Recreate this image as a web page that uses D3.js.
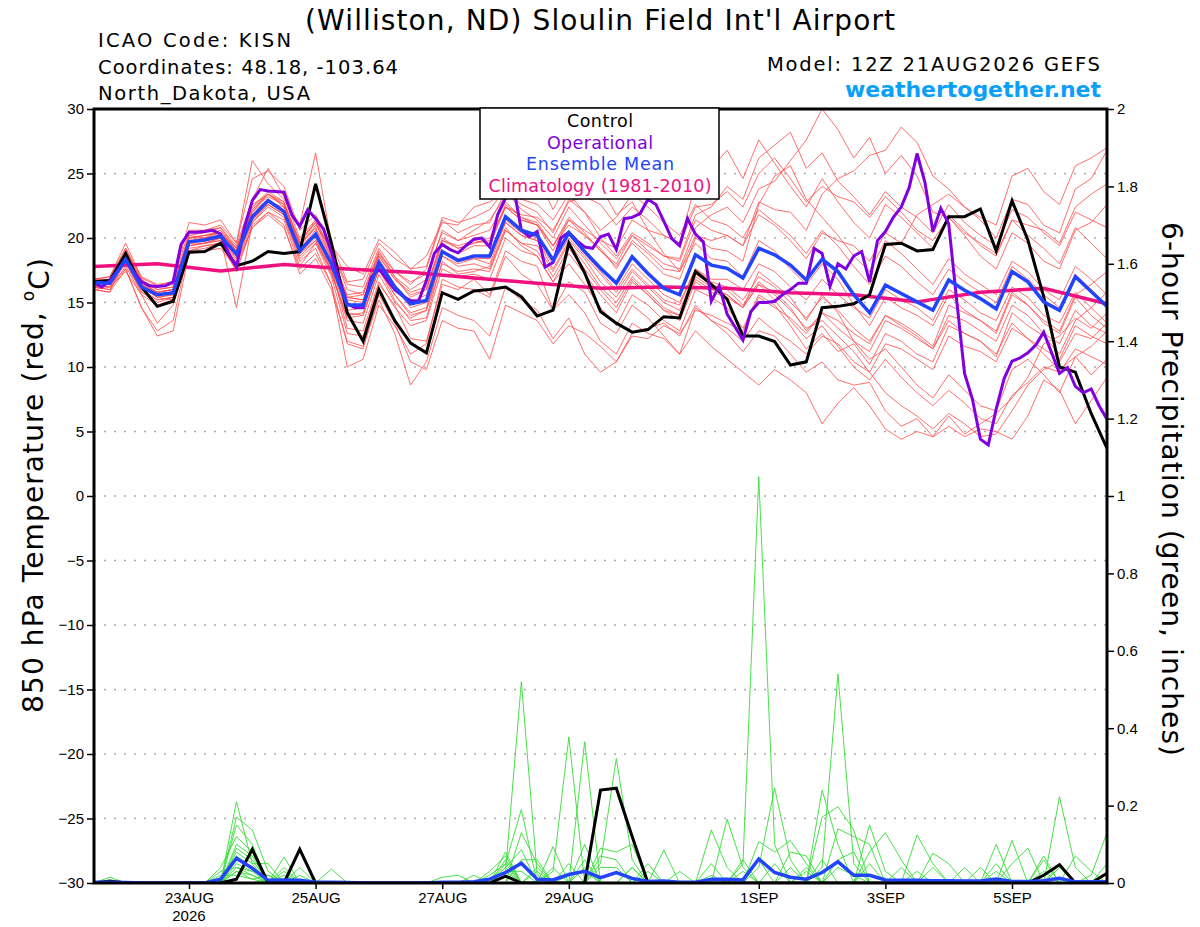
<!DOCTYPE html>
<html>
<head>
<meta charset="utf-8">
<script src="https://cdn.jsdelivr.net/npm/d3@7"></script>
<style>
  body { margin: 0; background: #fff; }
  svg text { font-family: "DejaVu Sans", "Liberation Sans", Arial, sans-serif; }
  .axis text { font-family: "Liberation Sans Narrow", "Liberation Sans", Arial, sans-serif; font-size: 15px; fill: #000; }
  .axis line { stroke: #000; stroke-width: 1.5; }
</style>
</head>
<body>
<svg id="chart" width="1200" height="927"></svg>
<script>
// GEFS 850 hPa temperature + 6-hour precipitation plume, KISN, 12Z 21AUG2026

// ---- data ----
const tempTicks = [-30, -25, -20, -15, -10, -5, 0, 5, 10, 15, 20, 25, 30];
const precipTicks = [0, 0.2, 0.4, 0.6, 0.8, 1, 1.2, 1.4, 1.6, 1.8, 2];
const dateTicks = ["2026-08-23", "2026-08-25", "2026-08-27", "2026-08-29", "2026-09-01", "2026-09-03", "2026-09-05"];
const dateLabels = ["23AUG", "25AUG", "27AUG", "29AUG", "1SEP", "3SEP", "5SEP"];
const legendLabels = ["Control", "Operational", "Ensemble Mean", "Climatology (1981-2010)"];

// 6-hourly, 21AUG 12Z .. 6SEP 12Z (65 steps)
const controlTemp = [
  16.6,16.7,18.8,16.2,14.7,15.1,18.9,18.95,19.6,17.85,18.2,18.95,18.8,18.95,24.2,19.6,
  14.2,12.0,16.0,13.6,11.85,11.1,15.76,15.25,15.9,16.0,16.2,15.45,13.95,14.4,19.6,17.3,
  14.3,13.4,12.7,12.9,13.9,13.8,17.4,16.4,15.25,12.4,12.4,11.97,10.15,10.4,14.6,14.7,
  14.9,15.6,19.5,19.6,19.0,19.1,21.65,21.65,22.25,19.0,22.9,19.85,15.45,10.0,9.6,6.4,3.7];

const meanTemp = [
  16.55,16.5,18.35,16.2,15.6,15.75,19.7,19.85,20.15,18.75,21.65,22.9,22.05,19.0,20.3,18.0,
  14.8,14.8,18.1,16.2,14.9,15.15,18.95,18.25,18.6,18.6,21.65,20.6,20.2,18.3,20.4,18.95,
  17.65,16.5,18.55,17.25,16.1,15.6,18.7,17.9,17.65,16.9,19.2,18.7,17.9,16.75,18.35,17.4,
  15.6,14.2,16.35,15.7,15.05,14.4,16.75,15.95,15.3,14.5,17.4,16.6,15.05,14.4,17.0,15.85,14.7];

// 3-hourly operational run (129 steps)
const operationalTemp = [
  16.5,16.2,16.7,17.5,18.3,17.4,16.6,16.3,16.25,16.3,16.6,19.5,20.45,20.45,20.5,20.6,
  20.3,18.8,17.75,20.8,22.9,23.75,23.65,23.6,23.55,21.8,20.9,22.2,21.5,20.7,18.9,16.7,
  14.9,14.6,14.6,16.9,17.6,16.8,16.0,15.5,15.15,15.1,16.7,18.8,19.5,19.1,18.85,19.4,
  19.9,20.0,19.3,21.8,23.1,24.0,20.6,20.1,20.5,17.75,18.1,20.0,20.45,19.8,19.3,19.2,
  20.1,20.3,19.1,21.5,21.6,21.9,23.0,22.6,21.3,19.95,19.4,21.5,20.3,19.7,15.1,16.3,
  14.1,13.1,12.1,14.3,15.0,15.0,15.1,15.6,16.0,16.5,16.5,19.2,18.8,16.25,18.0,17.6,
  18.6,18.95,16.6,19.8,20.5,21.6,22.4,23.9,26.55,24.3,20.5,22.3,21.1,15.2,9.5,7.5,
  4.4,3.95,6.75,9.1,10.45,10.7,11.1,11.7,12.7,11.1,9.5,9.95,8.5,8.0,8.3,7.0,5.95];

// daily at 12Z (17 steps)
const climoTemp = [17.8,18.0,17.45,17.95,17.6,17.35,16.9,16.5,16.1,16.2,16.1,15.75,15.6,15.05,15.8,16.1,14.9];

// ensemble members, 850 hPa temperature
const member01 = [16.8,17.0,19.6,16.9,16.3,16.6,21.2,21.0,21.4,19.6,24.6,25.2,24.0,20.6,21.8,19.4,
  17.8,17.2,19.9,18.9,17.6,18.6,21.2,21.0,22.4,22.8,23.6,22.2,21.4,20.0,22.4,21.0,
  19.6,18.4,20.2,19.0,18.0,17.6,20.8,21.8,22.4,21.2,23.8,24.4,26.0,27.6,30.0,28.4,
  26.2,27.8,25.0,26.4,24.8,22.0,21.6,20.2,18.6,17.6,20.4,19.6,18.2,17.6,20.6,21.2,22.6];
const member02 = [16.2,16.0,17.8,15.6,13.4,14.8,19.0,19.2,19.6,17.4,21.0,22.0,21.4,17.8,19.6,17.0,
  12.6,12.4,16.4,14.8,12.2,12.0,16.4,16.0,16.8,15.6,19.0,18.2,17.8,14.4,16.6,15.8,
  13.4,12.6,14.8,13.8,12.4,11.0,14.6,13.6,12.6,11.2,12.8,12.4,11.0,9.6,10.4,9.0,
  8.6,8.8,6.6,5.4,6.0,4.6,6.2,4.8,5.6,6.4,7.6,9.2,11.8,12.4,13.8,13.0,14.2];
const member03 = [16.0,15.8,18.8,16.6,15.4,15.2,20.2,20.4,20.8,19.2,22.4,23.6,22.8,19.6,20.8,17.2,
  13.8,14.0,17.6,15.2,13.6,13.8,18.2,17.2,17.4,17.8,20.8,19.4,18.6,16.6,18.0,16.4,
  14.6,13.2,15.6,14.8,13.6,12.8,16.0,15.4,14.6,13.0,15.6,14.8,13.2,11.4,12.6,11.2,
  11.8,10.2,12.6,12.0,11.0,10.4,13.2,12.6,12.0,10.8,14.2,13.2,12.4,11.0,13.6,14.6,15.8];
const member04 = [16.6,16.8,18.0,16.4,15.8,16.0,19.4,19.6,19.8,18.2,21.4,22.8,22.4,19.4,21.0,19.2,
  16.0,15.6,18.8,17.4,16.6,17.2,20.4,19.8,20.6,21.4,23.2,24.4,24.8,22.2,24.6,25.6,
  24.0,21.8,22.8,20.6,18.8,17.4,19.6,18.4,18.2,17.0,19.8,19.0,17.6,16.4,18.0,16.8,
  14.8,13.2,15.4,14.6,14.0,13.2,15.6,14.4,13.6,12.8,15.8,14.8,13.4,12.6,15.4,14.0,13.0];
const member05 = [16.4,16.2,18.2,15.8,15.0,15.4,19.4,19.6,20.0,14.6,21.2,22.4,21.6,18.2,19.2,16.4,
  10.0,10.6,14.8,13.2,11.0,11.8,16.8,16.2,16.0,15.4,18.6,17.2,16.4,14.4,15.6,14.2,
  12.0,11.0,13.4,12.6,12.2,11.0,12.8,11.6,10.6,9.6,8.6,9.8,9.0,8.0,5.6,7.2,
  8.4,7.0,5.2,4.4,5.0,4.6,5.4,4.6,5.2,5.0,4.4,6.2,9.0,8.2,5.6,7.4,9.2];
const member06 = [16.6,16.6,19.0,16.8,16.0,16.2,20.0,20.2,20.4,19.2,22.6,23.4,22.6,19.8,21.2,18.6,
  15.6,15.8,19.0,17.0,15.4,16.0,19.8,19.4,19.8,19.6,22.6,21.6,21.2,19.4,21.6,20.4,
  19.0,17.8,19.6,18.4,17.2,16.8,20.0,19.2,19.0,18.2,22.6,24.8,25.6,23.0,21.6,20.2,
  18.6,17.4,19.8,18.8,17.6,16.4,18.4,17.2,16.4,15.6,18.2,17.4,16.0,15.2,17.8,16.8,15.6];
const member07 = [16.2,16.4,17.6,14.6,12.8,13.6,19.2,19.4,19.6,18.0,20.8,21.8,20.8,17.6,18.8,16.4,
  11.8,11.4,15.6,13.4,10.4,9.8,13.6,13.0,12.8,10.6,14.8,14.2,13.6,11.8,13.2,12.6,
  11.6,10.4,12.4,12.2,13.2,12.6,14.4,14.0,13.4,12.8,15.4,14.6,13.8,12.6,14.2,13.0,
  12.0,11.2,13.6,13.0,12.2,11.4,14.0,13.6,12.8,12.0,14.8,14.0,12.6,11.8,14.4,13.2,12.6];
const member08 = [16.8,16.6,18.6,16.4,15.8,16.0,20.0,20.2,20.6,19.0,22.0,23.4,22.8,19.6,21.2,18.4,
  15.2,15.0,18.4,16.4,15.0,15.6,19.6,18.8,19.4,19.4,22.4,21.4,21.0,19.0,21.4,20.6,
  19.8,19.2,21.4,20.6,20.2,19.6,24.2,25.4,26.8,24.6,27.6,25.8,24.0,22.4,24.6,22.8,
  21.2,20.0,22.6,21.6,20.4,19.2,21.8,20.6,19.4,18.6,21.4,20.2,19.2,18.0,20.8,19.6,18.4];
const member09 = [16.4,16.4,18.0,15.8,15.2,15.4,19.6,19.8,20.0,18.4,22.0,23.0,22.2,18.8,20.0,17.4,
  13.6,13.4,17.2,15.0,13.8,14.4,18.0,17.4,17.6,17.4,20.6,19.6,19.0,17.0,19.2,17.6,
  16.0,14.6,16.8,15.6,14.4,14.0,16.8,16.0,15.6,14.6,16.4,15.8,14.6,12.8,14.2,13.6,
  12.6,11.8,14.0,13.4,12.6,11.6,14.8,14.2,13.6,12.6,15.6,14.8,13.6,12.8,15.6,16.4,17.4];
const member10 = [16.6,16.8,18.8,16.6,16.0,16.2,20.0,20.0,20.6,19.2,22.4,23.4,22.4,19.2,20.6,18.2,
  15.4,15.6,18.8,17.0,16.0,16.8,20.6,19.8,20.2,20.6,22.8,21.6,21.0,19.4,21.0,20.2,
  19.2,17.6,19.8,18.8,17.6,17.4,20.2,19.8,20.2,19.4,22.8,22.2,22.0,20.6,23.4,24.6,
  25.2,26.4,26.8,28.6,27.4,24.8,23.8,22.4,21.4,20.0,23.0,22.6,21.0,20.4,23.8,24.6,26.8];
const member11 = [16.0,16.2,17.4,15.6,14.8,15.2,19.0,19.4,19.6,18.0,21.2,22.6,21.8,18.4,19.6,17.6,
  13.0,12.8,16.6,14.6,13.2,13.6,17.6,17.0,17.2,16.8,20.0,19.0,18.6,16.6,18.8,17.2,
  15.6,14.2,16.6,15.6,14.4,13.6,16.6,15.8,15.4,14.6,17.4,16.4,15.4,13.6,15.6,14.2,
  12.0,10.6,11.4,10.0,8.6,7.6,9.4,8.2,7.0,6.6,9.8,10.6,9.4,8.0,10.8,11.6,12.8];
const member12 = [16.6,16.4,19.0,16.8,15.6,15.8,20.4,20.6,20.8,19.4,23.0,25.4,23.2,20.0,21.4,19.0,
  16.4,16.2,19.2,17.4,16.4,17.6,21.4,20.4,21.0,21.2,23.6,22.6,22.0,20.4,23.0,22.0,
  20.6,21.6,23.4,22.4,21.2,20.2,22.6,21.4,21.0,20.0,22.2,21.2,20.2,18.8,20.6,19.4,
  17.8,16.4,18.6,17.8,16.6,15.6,17.6,16.6,15.8,15.0,17.8,16.8,15.6,14.6,17.2,16.0,14.8];
const member13 = [16.2,16.0,18.2,16.0,15.2,15.4,19.4,19.6,19.8,18.4,21.4,22.6,21.8,18.6,19.8,17.2,
  14.0,14.2,17.6,15.6,14.0,14.4,18.6,17.8,18.0,17.6,20.6,19.6,19.4,17.4,19.6,18.0,
  16.2,15.0,17.0,15.8,14.6,14.0,17.0,16.2,15.6,14.6,16.4,15.2,13.6,12.2,13.2,11.6,
  10.0,9.0,10.6,9.2,8.0,7.0,8.2,7.2,6.0,5.6,7.8,8.8,10.0,9.6,11.4,10.8,10.2];
const member14 = [16.8,17.0,19.2,16.6,16.2,16.4,20.2,20.0,20.4,19.0,22.2,23.2,22.6,19.6,21.4,18.8,
  15.4,15.2,18.6,16.8,15.8,16.2,19.8,19.2,19.6,20.0,22.4,21.8,21.6,20.6,22.8,23.2,
  22.6,21.0,22.4,21.4,20.2,19.6,22.4,22.6,23.6,22.4,25.0,26.2,24.6,22.8,24.0,23.2,
  22.8,21.6,23.2,22.0,20.6,19.8,21.6,20.4,19.6,18.8,21.4,21.0,20.6,19.6,22.4,23.4,24.2];
const member15 = [16.4,16.6,18.6,16.2,15.4,15.6,19.6,19.6,20.0,18.6,21.8,22.8,22.0,19.0,20.2,17.8,
  14.4,14.6,18.0,16.2,14.6,15.0,19.0,18.4,18.6,18.4,21.4,20.4,20.0,18.2,20.2,18.8,
  17.4,16.0,18.0,16.8,15.6,15.0,17.6,16.6,16.2,15.2,17.0,16.2,15.0,13.8,15.4,14.4,
  13.0,12.0,14.0,13.2,12.4,11.4,13.6,12.6,12.0,11.0,13.4,12.2,11.0,9.8,10.8,9.4,10.6];
const member16 = [16.4,16.2,18.4,16.2,15.4,15.6,19.6,19.8,20.0,18.6,21.4,22.6,21.8,18.8,19.8,17.6,
  14.2,14.0,17.6,15.6,14.2,14.6,18.6,18.0,18.4,18.0,21.2,20.2,19.8,17.6,19.8,18.4,
  16.6,15.4,17.4,16.2,15.0,14.4,17.2,16.4,16.0,14.8,16.6,15.6,14.4,13.0,13.6,12.4,
  11.2,9.6,8.0,7.0,6.2,5.2,6.4,5.6,4.6,4.8,6.6,8.6,9.8,10.4,12.6,12.2,13.4];
const member17 = [16.6,16.8,18.8,16.6,15.8,16.0,20.0,20.2,20.4,19.0,22.2,23.4,22.6,19.4,20.8,18.4,
  15.4,15.2,18.6,16.8,15.6,16.0,20.0,19.2,19.6,19.8,22.4,21.4,21.0,19.4,21.4,20.2,
  19.0,18.0,20.2,19.4,18.6,18.4,21.8,22.4,24.0,23.0,26.2,27.2,28.2,25.4,26.6,24.4,
  23.2,21.8,23.6,22.4,21.6,20.4,22.6,21.2,20.2,19.4,22.2,21.6,20.4,19.4,22.0,21.4,20.8];
const member18 = [16.6,16.4,18.4,16.2,15.8,16.0,19.8,20.0,20.2,18.8,21.6,22.8,22.0,19.2,20.4,18.2,
  14.8,14.8,18.2,16.2,15.0,15.2,19.0,18.2,18.4,18.4,21.2,20.2,19.8,18.0,20.0,18.6,
  17.2,15.8,17.6,16.4,15.2,14.8,17.6,16.8,16.8,16.0,18.0,17.4,16.2,15.2,16.8,15.6,
  14.6,13.8,16.0,15.2,14.6,13.6,16.0,15.2,14.2,13.6,16.2,15.4,14.0,13.4,15.8,14.6,13.4];
const member19 = [16.0,15.8,17.6,14.6,12.4,12.8,18.8,19.0,19.2,17.6,20.8,22.0,21.0,17.2,18.4,16.0,
  12.0,11.6,15.2,12.6,8.6,10.4,14.6,14.0,13.6,12.4,16.2,15.2,14.4,12.2,13.8,11.0,
  9.6,10.4,12.6,13.0,13.4,12.4,14.8,13.6,13.0,12.0,13.8,12.8,12.0,11.0,12.4,11.8,
  10.4,9.6,11.8,11.4,10.6,9.8,12.4,11.6,11.2,10.4,13.0,12.2,11.4,10.6,13.2,12.4,11.8];
const member20 = [16.8,16.8,19.2,17.0,16.4,16.6,20.6,20.6,21.0,19.6,26.0,24.2,23.0,21.0,26.6,19.6,
  16.6,16.8,19.6,18.4,17.6,17.8,21.6,21.2,21.6,22.2,23.8,23.0,22.6,21.4,23.4,22.0,
  20.0,18.6,20.4,19.6,18.6,18.2,21.4,20.6,20.2,19.4,21.8,21.0,19.8,18.4,20.4,19.8,
  19.4,18.2,20.4,19.6,21.8,22.6,23.4,22.4,21.6,21.0,24.8,25.4,23.6,22.6,25.6,26.2,27.0];

// 6-hour precipitation (inches)
const controlPrecip = [0,0.005,0,0,0,0,0,0,0,0.01,0.087,0,0,0.087,0,0,
  0,0,0,0,0,0,0,0,0,0,0.018,0,0,0,0,0,
  0.24,0.245,0.12,0,0,0,0,0,0,0,0,0,0,0,0,0,
  0,0,0,0,0,0,0,0,0,0,0,0,0.02,0.047,0,0,0.025];
const meanPrecip = [0.002,0.002,0.001,0,0,0,0,0,0.01,0.064,0.038,0.007,0.008,0.007,0.002,0.002,
  0.001,0,0,0,0,0,0.002,0.002,0.003,0.01,0.027,0.051,0.01,0.008,0.022,0.03,
  0.014,0.027,0.012,0.004,0.005,0.002,0.002,0.01,0.01,0.008,0.062,0.027,0.015,0.01,0.027,0.055,
  0.02,0.02,0.008,0.007,0.007,0.006,0.006,0.005,0.005,0.01,0.004,0.004,0.006,0.012,0.003,0.003,0.003];

const precip01 = [0,0,0,0,0,0,0,0,0,.21,.05,0,0,0,0,0,
  0,0,0,0,0,0,0,0,0,0,.03,.52,.02,0,0,0,
  0,0,0,0,0,0,0,0,0,.05,1.05,.1,0,0,0,0,
  0,0,0,0,0,0,0,0,0,.1,0,0,0,0,0,0,0];
const precip02 = [0,0,0,0,0,0,0,0,0,.17,.137,.03,0,0,0,0,
  0,0,0,0,0,0,0,0,0,0,0,0,0,.03,.377,0,
  0,0,0,0,0,0,0,0,0,0,0,0,0,0,.04,.54,
  .05,0,0,0,0,0,0,0,0,0,0,0,0,.04,0,0,0];
const precip03 = [0,0,0,0,0,0,0,0,0,.15,.1,0,.067,0,0,0,
  0,0,0,0,0,0,0,0,0,0,0,0,0,0,0,.365,
  0,0,0,0,0,0,0,0,0,0,.04,.245,.06,0,0,0,
  0,0,0,0,0,0,0,0,0,0,0,0,0,.223,.04,0,0];
const precip04 = [0,0,0,0,0,0,0,0,.04,.12,.08,0,0,0,0,0,
  0,0,0,0,0,0,0,0,0,0,0,0,0,0,0,0,
  .05,.322,.06,0,0,0,0,0,0,0,0,0,0,0,.24,.1,
  0,0,0,0,0,0,0,0,0,0,.11,0,0,0,0,0,0];
const precip05 = [0,0,0,0,0,0,0,0,0,.1,.07,0,0,0,0,0,
  0,0,0,0,0,0,0,0,0,0,.05,.19,0,0,0,0,
  0,0,0,0,0,0,0,.137,.04,0,0,0,0,0,0,0,
  0,.15,.03,0,0,0,0,0,0,0,0,0,0,0,0,0,0];
const precip06 = [0,0,0,0,0,0,0,0,0,.09,.06,0,.04,0,0,0,
  0,0,0,0,0,0,0,0,0,0,0,.13,.05,0,0,0,
  0,0,0,0,0,0,0,0,0,0,0,0,0,0,.17,.197,
  .137,0,0,0,0,0,0,0,0,0,0,0,.07,0,0,0,0];
const precip07 = [0,0,0,0,0,0,0,0,0,.08,.05,.05,0,0,0,0,
  0,0,0,0,0,0,0,0,0,0,0,0,0,.094,0,.1,
  0,0,0,0,0,0,0,0,.165,.04,0,0,0,0,0,0,
  0,0,0,0,.124,.05,0,0,0,0,0,0,0,0,0,0,0];
const precip08 = [0,0,0,0,0,0,0,0,0,.07,.04,0,0,.04,0,0,
  0,0,0,0,0,0,0,0,0,0,.04,.086,0,0,0,0,
  0,0,0,0,0,0,0,0,0,0,.107,.08,.11,.05,0,0,
  0,0,0,0,0,0,0,0,0,0,0,0,0,0,0,.02,.13];
const precip09 = [0,0,0,0,0,0,0,0,0,.06,.04,0,0,0,0,.036,
  0,0,0,0,0,0,0,0,0,0,.06,0,0,0,0,0,
  .09,.08,.1,0,.085,0,0,0,0,0,0,0,0,0,0,.14,
  .12,.1,0,0,0,0,0,0,0,0,0,0,0,0,0,0,0];
const precip10 = [0,0,0,0,0,0,0,0,0,.05,.03,.02,0,0,0,0,
  0,0,0,0,0,0,0,0,0,0,0,.06,.06,0,0,.06,
  0,0,0,0,0,0,0,0,0,0,0,0,.08,.07,0,0,
  0,0,0,0,0,.077,.05,0,0,.05,0,0,0,0,0,0,0];
const precip11 = [0,0,0,0,0,0,0,0,0,.04,.03,0,.03,0,0,0,
  0,0,0,0,0,0,0,0,0,0,.08,0,.04,0,.05,0,
  0,0,0,.05,0,0,0,0,0,0,0,.05,0,0,0,0,
  0,.08,.13,.06,0,0,0,0,0,0,0,0,.06,0,0,0,0];
const precip12 = [0,0,0,0,0,0,0,0,.03,.04,.02,0,0,0,0,0,
  0,0,0,0,0,0,0,0,0,.03,.07,0,0,0,0,0,
  .07,.06,0,0,0,0,0,0,0,.06,0,0,0,0,0,.06,
  .08,0,0,0,0,0,0,0,0,0,.05,.09,0,0,0,0,0];
const precip13 = [0,0,0,0,0,0,0,0,0,.03,.02,0,.02,0,0,0,
  0,0,0,0,0,0,.015,.02,0,.02,.05,0,0,0,0,.04,
  0,0,.04,0,0,0,0,.05,0,0,0,0,0,0,.06,0,
  0,0,0,0,0,0,0,.04,0,0,0,0,0,.05,0,0,0];
const precip14 = [0,0,0,0,0,0,0,0,0,.03,.01,.02,0,0,0,0,
  0,0,0,0,0,0,0,0,.02,0,.04,0,0,0,.02,.03,
  0,0,0,.03,0,.03,0,0,0,0,.06,0,0,.04,0,0,
  0,0,0,.04,0,0,0,0,.04,0,0,0,0,0,0,0,.05];
const precip15 = [0,.015,0,0,0,0,0,0,.02,.02,.01,0,0,0,0,0,
  0,0,0,0,0,0,0,0,0,0,.03,0,.03,0,0,0,
  .04,.04,0,0,0,0,0,0,0,0,0,0,.04,0,0,.04,
  .02,0,0,0,.03,0,0,0,0,.03,0,0,.03,0,0,0,0];
const precip16 = [0,0,0,0,0,0,0,0,.01,0,0,.01,0,.02,0,0,
  0,0,0,0,0,0,0,0,0,0,.03,.03,0,.04,0,0,
  0,0,.04,0,0,0,0,.02,0,.03,0,0,0,.03,0,0,
  0,.05,0,0,0,.04,0,0,0,0,0,0,0,0,.07,.03,0];

const tempMembers = [member01, member02, member03, member04, member05, member06, member07, member08, member09, member10,
  member11, member12, member13, member14, member15, member16, member17, member18, member19, member20];
const precipMembers = [precip01, precip02, precip03, precip04, precip05, precip06, precip07, precip08,
  precip09, precip10, precip11, precip12, precip13, precip14, precip15, precip16];

// ---- layout ----
const svg = d3.select("#chart");
const plotLeft = 94, plotRight = 1107, plotTop = 109, plotBottom = 883;
const hour = 3600 * 1000;
const t0 = Date.UTC(2026, 7, 21, 12);

const x = d3.scaleUtc()
  .domain([new Date(t0), new Date(t0 + 384 * hour)])
  .range([plotLeft, plotRight]);
const yT = d3.scaleLinear().domain([-30, 30]).range([plotBottom, plotTop]);
const yP = d3.scaleLinear().domain([0, 2]).range([plotBottom, plotTop]);

// time of step i for a series with the given step length (hours)
function stepTime(i, stepHours) { return new Date(t0 + i * stepHours * hour); }

const line6T = d3.line().x((d, i) => x(stepTime(i, 6))).y(d => yT(d));
const line3T = d3.line().x((d, i) => x(stepTime(i, 3))).y(d => yT(d));
const line24T = d3.line().x((d, i) => x(stepTime(i, 24))).y(d => yT(d));
const line6P = d3.line().x((d, i) => x(stepTime(i, 6))).y(d => yP(d));

svg.append("defs").append("clipPath").attr("id", "plotclip")
  .append("rect").attr("x", plotLeft).attr("y", plotTop)
  .attr("width", plotRight - plotLeft).attr("height", plotBottom - plotTop);

//dotted gridlines on the temperature ticks
svg.append("g").selectAll("line")
  .data(tempTicks.filter(d => d > -30 && d < 30))
  .join("line")
  .attr("x1", plotLeft).attr("x2", plotRight)
  .attr("y1", d => yT(d)).attr("y2", d => yT(d))
  .attr("stroke", "#aaa")
  .attr("stroke-width", 1.6)
  .attr("stroke-dasharray", "2,8");

const plot = svg.append("g").attr("clip-path", "url(#plotclip)");

//members first, thin
plot.selectAll("path.tmember").data(tempMembers)
  .join("path")
  .attr("class", "tmember")
  .attr("d", line6T)
  .attr("fill", "none")
  .attr("stroke", "#ff4a4a")
  .attr("stroke-width", 0.8);

plot.selectAll("path.pmember").data(precipMembers)
  .join("path")
  .attr("class", "pmember")
  .attr("d", line6P)
  .attr("fill", "none")
  .attr("stroke", "#33dd33")
  .attr("stroke-width", 0.9);

plot.append("path").datum(climoTemp)
  .attr("d", line24T)
  .attr("fill", "none").attr("stroke", "#f0107f").attr("stroke-width", 3.5);

plot.append("path").datum(controlPrecip)
  .attr("d", line6P)
  .attr("fill", "none").attr("stroke", "#000").attr("stroke-width", 3);
plot.append("path").datum(controlTemp)
  .attr("d", line6T)
  .attr("fill", "none").attr("stroke", "#000").attr("stroke-width", 3);

plot.append("path").datum(operationalTemp)
  .attr("d", line3T)
  .attr("fill", "none").attr("stroke", "#8000e0").attr("stroke-width", 3);

plot.append("path").datum(meanPrecip)
  .attr("d", line6P)
  .attr("fill", "none").attr("stroke", "#2244ff").attr("stroke-width", 3.5);
plot.append("path").datum(meanTemp)
  .attr("d", line6T)
  .attr("fill", "none").attr("stroke", "#2244ff").attr("stroke-width", 3.5);

// ---- axes ----
const leftAxis = svg.append("g").attr("class", "axis")
  .attr("transform", `translate(${plotLeft},0)`)
  .call(d3.axisLeft(yT).tickValues(tempTicks).tickSize(7).tickPadding(3));
leftAxis.select(".domain").remove();

const rightAxis = svg.append("g").attr("class", "axis")
  .attr("transform", `translate(${plotRight},0)`)
  .call(d3.axisRight(yP).tickValues(precipTicks).tickSize(7).tickPadding(3).tickFormat(d3.format("~g")));
rightAxis.select(".domain").remove();

const tickDates = dateTicks.map(s => new Date(s + "T00:00:00Z"));
const bottomAxis = svg.append("g").attr("class", "axis")
  .attr("transform", `translate(0,${plotBottom})`)
  .call(d3.axisBottom(x).tickValues(tickDates).tickSize(6)
    .tickFormat((d, i) => dateLabels[i]));
bottomAxis.select(".domain").remove();
bottomAxis.selectAll(".tick text").attr("y", 20).attr("dy", 0);

svg.append("text")
  .attr("class", "axis")
  .attr("x", x(tickDates[0])).attr("y", 921)
  .attr("text-anchor", "middle")
  .style("font-family", "'Liberation Sans Narrow', 'Liberation Sans', Arial, sans-serif")
  .style("font-size", "15px")
  .text("2026");

//thick frame
svg.append("rect")
  .attr("x", plotLeft).attr("y", plotTop)
  .attr("width", plotRight - plotLeft).attr("height", plotBottom - plotTop)
  .attr("fill", "none").attr("stroke", "#000").attr("stroke-width", 3);

// ---- titles ----
svg.append("text").attr("x", 600).attr("y", 30)
  .attr("text-anchor", "middle").style("font-size", "28px")
  .attr("textLength", 590).attr("lengthAdjust", "spacing")
  .text("(Williston, ND) Sloulin Field Int'l Airport");

const infoLines = ["ICAO Code: KISN", "Coordinates: 48.18, -103.64", "North_Dakota, USA"];
const infoWidths = [193, 300, 212];
svg.append("g").selectAll("text").data(infoLines)
  .join("text")
  .attr("x", 98).attr("y", (d, i) => 47 + i * 26.5)
  .style("font-size", "19.5px")
  .attr("textLength", (d, i) => infoWidths[i]).attr("lengthAdjust", "spacing")
  .text(d => d);

svg.append("text").attr("x", 1100).attr("y", 71)
  .attr("text-anchor", "end").style("font-size", "19.5px")
  .attr("textLength", 333).attr("lengthAdjust", "spacing")
  .text("Model: 12Z 21AUG2026 GEFS");
svg.append("text").attr("x", 1101).attr("y", 97)
  .attr("text-anchor", "end").style("font-size", "22px").style("font-weight", "bold")
  .attr("textLength", 256).attr("lengthAdjust", "spacing")
  .attr("fill", "#0aa0fa")
  .text("weathertogether.net");

const leftLabel = svg.append("text")
  .attr("transform", "translate(43,485.5) rotate(-90)")
  .attr("text-anchor", "middle").style("font-size", "28px")
  .attr("textLength", 455).attr("lengthAdjust", "spacing");
leftLabel.append("tspan").text("850 hPa Temperature (red, ");
leftLabel.append("tspan").attr("dy", "-0.55em").style("font-size", "17px").text("o");
leftLabel.append("tspan").attr("dy", "0.55em").text("C)");

svg.append("text")
  .attr("transform", "translate(1162,489) rotate(90)")
  .attr("text-anchor", "middle").style("font-size", "28px")
  .attr("textLength", 534).attr("lengthAdjust", "spacing")
  .text("6-hour Precipitation (green, inches)");

// ---- legend ----
const legendColors = ["#000", "#8000e0", "#2244ff", "#f0107f"];
const legendWidths = [66, 106, 148, 223];
const legend = svg.append("g");
legend.append("rect")
  .attr("x", 480).attr("y", 108).attr("width", 239).attr("height", 91)
  .attr("fill", "#fff").attr("stroke", "#000").attr("stroke-width", 1.5);
legend.selectAll("text").data(legendLabels)
  .join("text")
  .attr("x", 600).attr("y", (d, i) => 127 + i * 21.5)
  .attr("text-anchor", "middle")
  .style("font-size", "17.5px")
  .attr("textLength", (d, i) => legendWidths[i]).attr("lengthAdjust", "spacing")
  .attr("fill", (d, i) => legendColors[i])
  .text(d => d);
</script>
</body>
</html>
